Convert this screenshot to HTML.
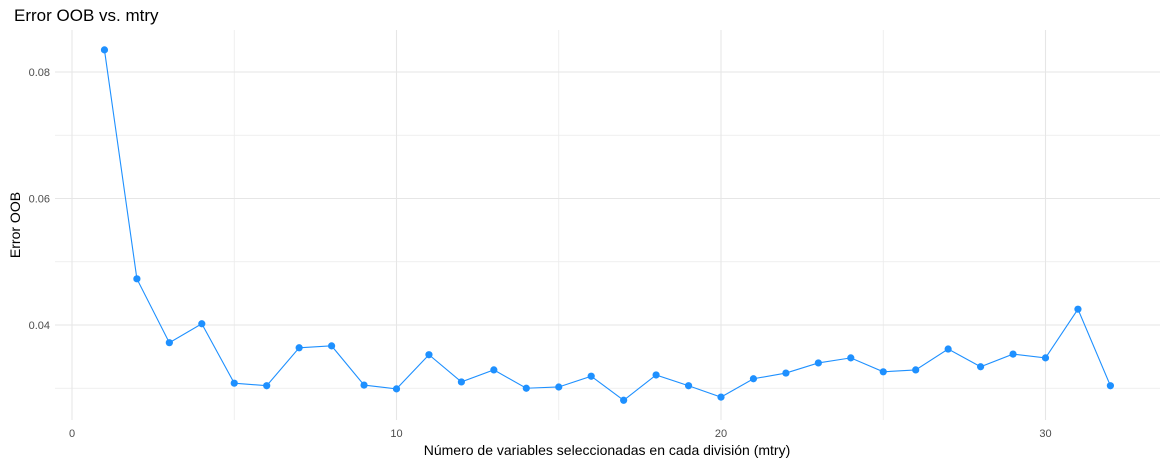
<!DOCTYPE html>
<html><head><meta charset="utf-8"><style>
body{margin:0;background:#fff;font-family:"Liberation Sans",sans-serif}
</style></head><body>
<svg id="chart" width="1168" height="463" xmlns="http://www.w3.org/2000/svg">
<text x="14" y="21" font-size="17" fill="#000">Error OOB vs. mtry</text>
<g id="grid"></g>
<g id="ticks"></g>
<g id="series"></g>
<text x="607" y="455" font-size="14" text-anchor="middle" fill="#000">Número de variables seleccionadas en cada división (mtry)</text>
<text transform="translate(20,225) rotate(-90)" font-size="14" text-anchor="middle" fill="#000">Error OOB</text>
</svg>
<script>
const mtry=[1,2,3,4,5,6,7,8,9,10,11,12,13,14,15,16,17,18,19,20,21,22,23,24,25,26,27,28,29,30,31,32];
const oobError=[0.0835,0.0473,0.0372,0.0402,0.0308,0.0304,0.0364,0.0367,0.0305,0.0299,0.0353,0.0310,0.0329,0.0300,0.0302,0.0319,0.0281,0.0321,0.0304,0.0286,0.0315,0.0324,0.0340,0.0348,0.0326,0.0329,0.0362,0.0334,0.0354,0.0348,0.0425,0.0304];
const xTicks=[0,10,20,30];
const xMinor=[5,15,25];
const yTicks=[0.04,0.06,0.08];
const yMinor=[0.03,0.05,0.07];
const NS="http://www.w3.org/2000/svg";
const X=v=>72+v*32.45;
const Y=v=>72+(0.08-v)*6325;
const L=55,R=1160,T=30,B=420;
function mk(tag,attrs,parent){const e=document.createElementNS(NS,tag);for(const k in attrs)e.setAttribute(k,attrs[k]);parent.appendChild(e);return e;}
const grid=document.getElementById('grid'),ticks=document.getElementById('ticks'),series=document.getElementById('series');
yMinor.forEach(v=>{const l=mk('line',{x1:L,x2:R,y1:Y(v),y2:Y(v),stroke:'#ebebeb','stroke-width':0.8},grid);

});
xMinor.forEach(v=>{const l=mk('line',{x1:X(v),x2:X(v),y1:T,y2:B,stroke:'#ebebeb','stroke-width':0.8},grid);

});
yTicks.forEach(v=>{const l=mk('line',{x1:L,x2:R,y1:Y(v),y2:Y(v),stroke:'#e6e6e6','stroke-width':1.1},grid);


const t=mk('text',{x:50,y:Y(v)+4,'font-size':11,'text-anchor':'end',fill:'#4d4d4d'},ticks);t.textContent=v.toFixed(2);

});
xTicks.forEach(v=>{const l=mk('line',{x1:X(v),x2:X(v),y1:T,y2:B,stroke:'#e6e6e6','stroke-width':1.1},grid);


const t=mk('text',{x:X(v),y:437,'font-size':11,'text-anchor':'middle',fill:'#4d4d4d'},ticks);t.textContent=v;

});
const pl=mk('polyline',{points:mtry.map((m,i)=>X(m)+','+Y(oobError[i])).join(' '),fill:'none',stroke:'#1e90ff','stroke-width':1.1},series);


mtry.forEach((m,i)=>{const c=mk('circle',{cx:X(m),cy:Y(oobError[i]),r:3.6,fill:'#1e90ff'},series);

});
</script>
</body></html>
